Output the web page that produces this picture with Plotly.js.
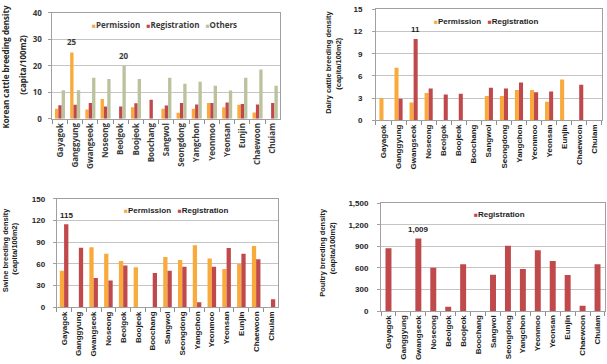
<!DOCTYPE html>
<html>
<head>
<meta charset="utf-8">
<script src="https://cdn.plot.ly/plotly-3.0.1.min.js"></script>
<style>
  html, body { margin: 0; padding: 0; background: #ffffff; }
  #chart { width: 607px; height: 364px; }
</style>
</head>
<body>
<div id="chart"></div>
<script>
// Breeding density per region (capita/100m2)
const regions = ['Gayagok', 'Ganggyung', 'Gwangseok', 'Noseong', 'Beolgok', 'Boojeok', 'Boochang',
  'Sangwol', 'Seongdong', 'Yangchon', 'Yeonmoo', 'Yeonsan', 'Eunjin', 'Chaewoon', 'Chuiam'];

// Korean cattle
const cattlePermission   = [3.8, 25, 3.5, 7.5, null, 4.4, null, 3.8, 2.3, 3.8, 6.0, 4.4, 5.3, 2.4, null];
const cattleRegistration = [5.1, 5.3, 6.0, 4.6, 4.6, 5.9, 7.2, 5.0, 6.0, 5.4, 6.0, 6.2, 5.6, 5.4, 6.0];
const cattleOthers       = [10.8, 10.8, 15.5, 15.0, 20, 15.0, null, 15.5, 13.2, 14.0, 12.5, 10.7, 15.5, 18.6, 12.5];

// Dairy cattle
const dairyPermission   = [3.0, 7.1, 2.4, 3.7, null, null, null, 3.3, 3.3, 4.1, 4.1, 2.5, 5.5, null, null];
const dairyRegistration = [null, 2.9, 11, 4.3, 3.5, 3.6, null, 4.4, 4.3, 5.1, 3.8, 3.9, null, 4.8, null];

// Swine
const swinePermission   = [50.5, null, 83, 74, 64, 55.5, null, 69.5, 65.5, 86, 67.5, 53, 60, 85, null];
const swineRegistration = [115, 82.5, 40.5, 37, 58, null, 47.5, 50.5, 56, 7, 56, 82, 74, 66.5, 11];

// Poultry
const poultryRegistration = [875, null, 1009, 604, 60, 651, null, 506, 907, 586, 847, 697, 502, 74, 651];

// Series names
const seriesNames = { permission: 'Permission', registration: 'Registration', others: 'Others' };

// Axis titles
const yTitles = {
  cattle:  ['Korean cattle breeding density', '(capita/100m2)'],
  dairy:   ['Dairy cattle breeding density', '(capita/100m2)'],
  swine:   ['Swine breeding density', '(capita/100m2)'],
  poultry: ['Poultry breeding density', '(capita/100m2)']
};

const colors = { permission: '#F9AA3C', registration: '#C0494C', others: '#BDC29E' };

const fontKo = { family: 'Open Sans, sans-serif', size: 8, color: '#3a3a3a', weight: 'bold' };
const fontAr = { family: 'Liberation Sans, Arial, sans-serif', size: 8, color: '#1e1e1e', weight: 'bold' };
const titleKo = Object.assign({}, fontKo, { color: '#262626' });
const titleAr = Object.assign({}, fontAr, { size: 7.5, color: '#1a1a1a' });

function bars(key, values, xa, ya, width, offset) {
  return {
    type: 'bar', name: seriesNames[key], x: regions, y: values,
    marker: { color: colors[key], line: { width: 0 } },
    width: width, offset: offset, xaxis: xa, yaxis: ya,
    showlegend: false, hoverinfo: 'skip'
  };
}

// Grouped bar geometry per panel (in category units)
const geom = {
  cattle:  { w: 0.22, off: { permission: -0.33, registration: -0.11, others: 0.11 } },
  dairy:   { w: 0.27, off: { permission: -0.27, registration: 0 } },
  swine:   { w: 0.29, off: { permission: -0.29, registration: 0 } },
  poultry: { w: 0.40, off: { registration: -0.20 } }
};

const traces = [
  bars('permission',   cattlePermission,   'x',  'y',  geom.cattle.w, geom.cattle.off.permission),
  bars('registration', cattleRegistration, 'x',  'y',  geom.cattle.w, geom.cattle.off.registration),
  bars('others',       cattleOthers,       'x',  'y',  geom.cattle.w, geom.cattle.off.others),
  bars('permission',   dairyPermission,    'x2', 'y2', geom.dairy.w, geom.dairy.off.permission),
  bars('registration', dairyRegistration,  'x2', 'y2', geom.dairy.w, geom.dairy.off.registration),
  bars('permission',   swinePermission,    'x3', 'y3', geom.swine.w, geom.swine.off.permission),
  bars('registration', swineRegistration,  'x3', 'y3', geom.swine.w, geom.swine.off.registration),
  bars('registration', poultryRegistration,'x4', 'y4', geom.poultry.w, geom.poultry.off.registration)
];

function xAxis(domain, anchor, font) {
  return {
    domain: domain, anchor: anchor, type: 'category',
    categoryorder: 'array', categoryarray: regions, range: [-0.5, regions.length - 0.5],
    tickangle: -90, tickfont: font, ticks: 'outside', tickson: 'boundaries', ticklen: 4,
    tickcolor: '#8f8f8f', showline: true, linecolor: '#a0a0a0', linewidth: 1, mirror: true,
    showgrid: false, zeroline: false, fixedrange: true
  };
}

function yAxis(domain, anchor, max, dtick, font, standoff, fmt) {
  return {
    domain: domain, anchor: anchor, range: [0, max], dtick: dtick, tick0: 0,
    tickfont: font, ticks: 'outside', ticklen: 3, tickcolor: '#a0a0a0',
    ticklabelstandoff: standoff, tickformat: fmt || '',
    showline: true, linecolor: '#a0a0a0', linewidth: 1, mirror: true,
    showgrid: true, gridcolor: '#c4c4c4', gridwidth: 1, zeroline: false, fixedrange: true
  };
}

// Legend rows drawn from series names and colours
function legendRow(keys, x, y, font) {
  const text = keys.map(k =>
    '<span style="color:' + colors[k] + ';font-size:6.5px">\u25A0</span>' + seriesNames[k]
  ).join('&nbsp;&nbsp;&nbsp;');
  return { xref: 'paper', yref: 'paper', x: x, y: y, xanchor: 'left', yanchor: 'middle',
           text: text, showarrow: false, font: font };
}

function axisTitle(lines, xs, ys, font) {
  return lines.map((t, i) => ({
    xref: 'paper', yref: 'paper', x: xs[i], y: ys[i], xanchor: 'center', yanchor: 'middle',
    textangle: -90, text: t, showarrow: false, font: font
  }));
}

// Value label placed above a given bar
function valueLabel(xa, ya, values, idx, g, key, font, fmt, shift) {
  const v = values[idx];
  return {
    xref: xa, yref: ya, x: idx + g.off[key] + g.w / 2, y: v,
    xanchor: 'center', yanchor: 'bottom', yshift: shift, showarrow: false,
    text: fmt ? v.toLocaleString('en-US') : String(v), font: font
  };
}

const annotations = [].concat(
  legendRow(['permission', 'registration', 'others'], 0.148, 0.934, fontKo),
  legendRow(['permission', 'registration'], 0.712, 0.942, fontAr),
  legendRow(['permission', 'registration'], 0.201, 0.421, fontAr),
  legendRow(['registration'], 0.777, 0.411, fontAr),
  axisTitle(yTitles.cattle,  [0.0091, 0.0357], [0.816, 0.821], titleKo),
  axisTitle(yTitles.dairy,   [0.5420, 0.5575], [0.830, 0.826], titleAr),
  axisTitle(yTitles.swine,   [0.0085, 0.0240], [0.313, 0.318], titleAr),
  axisTitle(yTitles.poultry, [0.5321, 0.5470], [0.308, 0.318], titleAr),
  valueLabel('x',  'y',  cattlePermission,   1, geom.cattle, 'permission',   fontKo, false, 4),
  valueLabel('x',  'y',  cattleOthers,       4, geom.cattle, 'others',       fontKo, false, 3),
  valueLabel('x2', 'y2', dairyRegistration,  2, geom.dairy,  'registration', fontAr, false, 3),
  valueLabel('x3', 'y3', swineRegistration,  0, geom.swine,  'registration', fontAr, false, 2),
  valueLabel('x4', 'y4', poultryRegistration,2, geom.poultry,'registration', fontAr, true, 3)
);

const layout = {
  width: 607, height: 364,
  margin: { l: 0, r: 0, t: 0, b: 0 },
  paper_bgcolor: '#ffffff', plot_bgcolor: '#ffffff',
  barmode: 'overlay', showlegend: false,
  font: fontAr,
  xaxis:  xAxis([0.0863, 0.4619], 'y',  fontKo),
  yaxis:  yAxis([0.6736, 0.9648], 'x',  40, 10, fontKo, 5),
  xaxis2: xAxis([0.6194, 0.9914], 'y2', fontAr),
  yaxis2: yAxis([0.6695, 0.9745], 'x2', 15, 3, fontAr, 8),
  xaxis3: xAxis([0.0934, 0.4585], 'y3', fontAr),
  yaxis3: yAxis([0.1558, 0.4533], 'x3', 150, 30, fontAr, 6),
  xaxis4: xAxis([0.6277, 0.9967], 'y4', fontAr),
  yaxis4: yAxis([0.1456, 0.4415], 'x4', 1500, 300, fontAr, 7, ',d'),
  annotations: annotations
};

Plotly.newPlot('chart', traces, layout, { displayModeBar: false, staticPlot: true });
</script>
</body>
</html>
